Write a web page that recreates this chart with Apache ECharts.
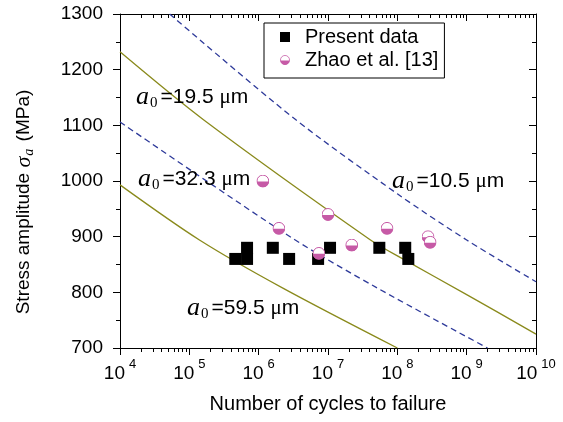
<!DOCTYPE html>
<html>
<head>
<meta charset="utf-8">
<script src="https://cdn.jsdelivr.net/npm/echarts@6/dist/echarts.min.js"></script>
<style>
html, body { margin: 0; padding: 0; background: #fff; }
#chart { width: 563px; height: 422px; }
</style>
</head>
<body>
<div id="chart"></div>
<script>
// present data (black squares)
var presentN = [4.6e5, 6.8e5, 6.8e5, 1.6e6, 2.75e6, 7.2e6, 1.07e7, 5.5e7, 1.3e8, 1.44e8];
var presentS = [860, 880, 860, 880, 860, 860, 880, 880, 880, 860];

// Zhao et al. [13] (half filled circles)
var zhaoN = [1.15e6, 1.96e6, 7.4e6, 1.0e7, 2.2e7, 7.1e7, 2.77e8, 2.97e8];
var zhaoS = [1000, 915, 870, 940, 885, 915, 900, 890];

// model curves
var a105N = [5.2e4, 3.2e6, 1e8, 1e9, 1e10];
var a105S = [1300, 1113, 977, 894, 819];
var a195N = [1e4, 1.6e5, 4.1e7, 1.2e8, 1e9, 1e10];
var a195S = [1232, 1110, 894, 860, 796, 725];
var a323N = [1e4, 3.0e6, 5.1e7, 2.0e9];
var a323S = [1106, 898, 808, 700];
var a595N = [1e4, 1.4e5, 2.2e6, 1e8];
var a595S = [993, 894, 808, 700];

// tick labels
var xExponents = ['4', '5', '6', '7', '8', '9', '10'];
var xMinorMult = [2, 3, 4, 5, 6, 7, 8, 9];

var sansFont = 'Liberation Sans';
var serifFont = 'Liberation Serif';
var pink = '#c65aa6';
var olive = '#8a8a1c';
var blue = '#2e3a9a';

function pairs(xs, ys) {
  var out = [];
  for (var i = 0; i < xs.length; i++) out.push([xs[i], ys[i]]);
  return out;
}

// minor tick positions in log space (for the helper axes)
var minorTicks = [];
for (var d = 4; d < 10; d++) {
  for (var k = 0; k < xMinorMult.length; k++) {
    minorTicks.push(d + Math.log10(xMinorMult[k]));
  }
}

var halfCircle = "<svg xmlns='http://www.w3.org/2000/svg' width='26' height='26' viewBox='0 0 26 26'>" +
  "<circle cx='13' cy='13' r='11.8' fill='#fff' stroke='" + pink + "' stroke-width='2'/>" +
  "<path d='M1.1 14 A11.9 11.9 0 0 0 24.9 14 Z' fill='" + pink + "'/></svg>";
var halfSymbol = 'image://data:image/svg+xml;charset=utf-8,' + encodeURIComponent(halfCircle);

var chart = echarts.init(document.getElementById('chart'));

function curve(xs, ys, color, dashed) {
  return {
    type: 'line',
    data: pairs(xs, ys),
    showSymbol: false,
    smooth: 0.3,
    silent: true,
    z: 2,
    lineStyle: { color: color, width: 1.3, type: dashed ? [6, 4] : 'solid' }
  };
}

var annoRich = {
  ai: { fontFamily: serifFont, fontStyle: 'italic', fontSize: 26, fill: '#000' },
  sub: { fontFamily: serifFont, fontSize: 15, fill: '#000', padding: [12, 3, 0, 1] },
  t: { fontFamily: sansFont, fontSize: 21, fill: '#000' },
  mu: { fontFamily: serifFont, fontSize: 21, fill: '#000' }
};

function anno(x, y, val) {
  return {
    type: 'text',
    x: x, y: y, z: 50,
    style: {
      text: '{ai|a}{sub|0}{t|=' + val + ' }{mu|μ}{t|m}',
      rich: annoRich,
      align: 'left',
      verticalAlign: 'middle'
    }
  };
}

// helper axis that only carries the minor ticks of the log axis
function minorAxis(pos) {
  return {
    type: 'value', min: 4, max: 10, position: pos,
    axisLine: { show: false },
    axisTick: { show: true, inside: pos === 'top', length: 4, customValues: minorTicks, lineStyle: { color: '#000', width: 1 } },
    axisLabel: { show: false },
    splitLine: { show: false }
  };
}

var option = {
  animation: false,
  backgroundColor: '#fff',
  grid: { left: 120, right: 27, top: 14, bottom: 74, outerBoundsMode: 'none' },
  legend: {
    orient: 'vertical',
    left: 264,
    top: 23,
    padding: [4, 6, 8, 16],
    itemGap: 3,
    itemWidth: 10,
    itemHeight: 10,
    borderColor: '#000',
    borderWidth: 1,
    backgroundColor: '#fff',
    textStyle: { fontFamily: sansFont, fontSize: 20, color: '#000', padding: [0, 0, 0, 10] },
    data: ['Present data', 'Zhao et al. [13]']
  },
  xAxis: [
    {
      type: 'log', logBase: 10, min: 1e4, max: 1e10, position: 'bottom',
      axisLine: { lineStyle: { color: '#000', width: 1 } },
      axisTick: { length: 7, lineStyle: { color: '#000' } },
      splitLine: { show: false },
      axisLabel: {
        margin: 10,
        color: '#000',
        formatter: function (v) {
          var e = Math.round(Math.log10(v));
          return '{b|10}{s|' + xExponents[e - 4] + '}';
        },
        rich: {
          b: { fontFamily: sansFont, fontSize: 19, color: '#000' },
          s: { fontFamily: sansFont, fontSize: 13, color: '#000', padding: [0, 0, 18, 4] }
        }
      },
      name: 'Number of cycles to failure',
      nameLocation: 'middle',
      nameGap: 46,
      nameTextStyle: { fontFamily: sansFont, fontSize: 20, color: '#000' }
    },
    minorAxis('bottom'),
    {
      type: 'log', logBase: 10, min: 1e4, max: 1e10, position: 'top',
      axisLine: { lineStyle: { color: '#000', width: 1 } },
      axisTick: { inside: true, length: 7, lineStyle: { color: '#000' } },
      axisLabel: { show: false },
      splitLine: { show: false }
    },
    minorAxis('top')
  ],
  yAxis: [
    {
      type: 'value', min: 700, max: 1300, interval: 100, position: 'left',
      axisLine: { show: true, lineStyle: { color: '#000', width: 1 } },
      axisTick: { show: true, length: 7, lineStyle: { color: '#000' } },
      minorTick: { show: true, splitNumber: 2, length: 4, lineStyle: { color: '#000' } },
      splitLine: { show: false },
      axisLabel: {
        margin: 17, fontFamily: sansFont, fontSize: 19, color: '#000',
        formatter: function (v) { return String(v); }
      }
    },
    {
      type: 'value', min: 700, max: 1300, interval: 100, position: 'right',
      axisLine: { show: true, lineStyle: { color: '#000', width: 1 } },
      axisTick: { show: true, inside: true, length: 7, lineStyle: { color: '#000' } },
      minorTick: { show: true, splitNumber: 2, length: 4, lineStyle: { color: '#000' } },
      splitLine: { show: false },
      axisLabel: { show: false }
    }
  ],
  graphic: [
    {
      type: 'text',
      x: 24, y: 202, rotation: Math.PI / 2, z: 50,
      style: {
        text: '{t|Stress amplitude }{s|σ}{a|a}{t| (MPa)}',
        align: 'center',
        verticalAlign: 'middle',
        rich: {
          t: { fontFamily: sansFont, fontSize: 19, fill: '#000' },
          s: { fontFamily: serifFont, fontStyle: 'italic', fontSize: 22, fill: '#000' },
          a: { fontFamily: serifFont, fontStyle: 'italic', fontSize: 14, fill: '#000', padding: [10, 2, 0, 1] }
        }
      }
    },
    anno(136, 97, '19.5'),
    anno(138, 179, '32.3'),
    anno(392, 181, '10.5'),
    anno(187, 308, '59.5')
  ],
  series: [
    curve(a105N, a105S, blue, true),
    curve(a323N, a323S, blue, true),
    curve(a195N, a195S, olive, false),
    curve(a595N, a595S, olive, false),
    {
      name: 'Present data',
      type: 'scatter',
      symbol: 'rect',
      symbolSize: 12,
      z: 5,
      itemStyle: { color: '#000', opacity: 1 },
      data: pairs(presentN, presentS)
    },
    {
      name: 'Zhao et al. [13]',
      type: 'scatter',
      symbol: halfSymbol,
      symbolSize: 13,
      z: 6,
      itemStyle: { color: pink, opacity: 1 },
      data: pairs(zhaoN, zhaoS)
    }
  ]
};

chart.setOption(option);
</script>
</body>
</html>
